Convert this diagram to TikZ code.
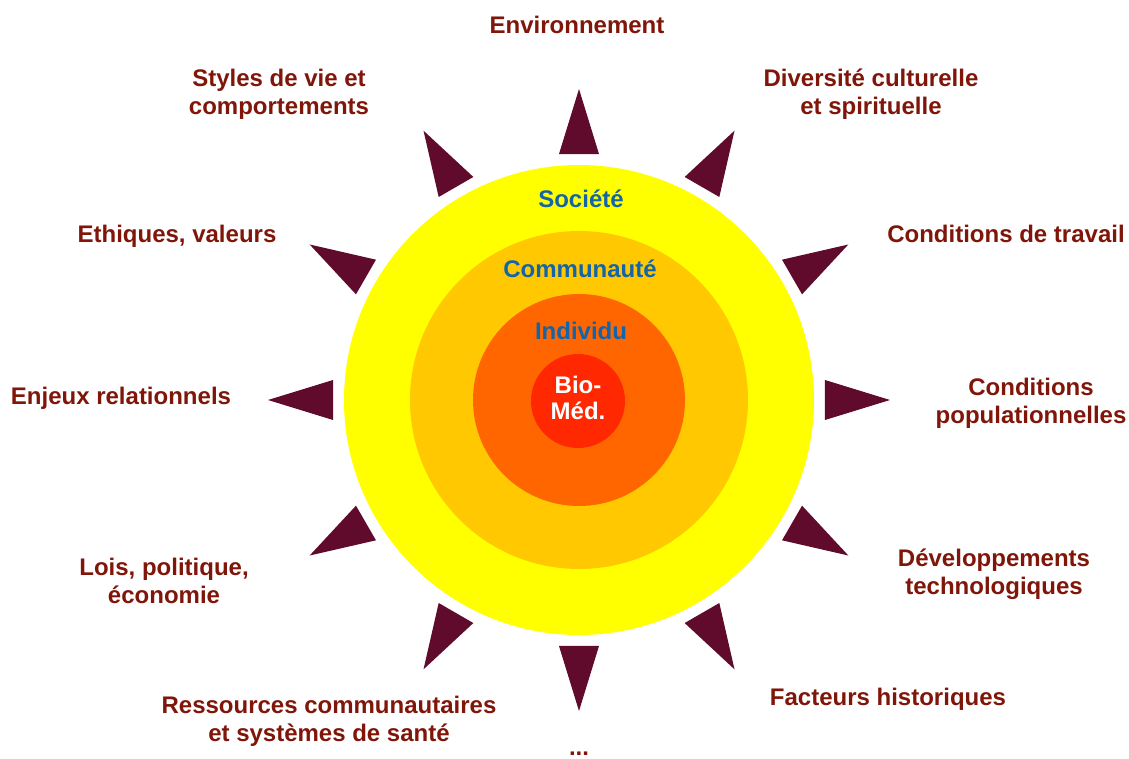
\documentclass[tikz,border=0pt]{standalone}
\usepackage{fontspec}
\setmainfont{Liberation Sans}
\definecolor{ray}{RGB}{96,10,44}
\definecolor{lab}{RGB}{128,22,10}
\definecolor{lvl}{RGB}{20,100,170}
\definecolor{soc}{RGB}{255,255,0}
\definecolor{com}{RGB}{255,200,0}
\definecolor{ind}{RGB}{255,102,0}
\definecolor{bio}{RGB}{255,40,0}
\tikzset{
  lbl/.style={text=lab, font=\fontsize{24}{28}\selectfont\bfseries, align=center, inner sep=0pt},
  lvllbl/.style={text=lvl, font=\fontsize{24}{28}\selectfont\bfseries, inner sep=0pt},
  raytri/.style={fill=ray}
}
\begin{document}
\begin{tikzpicture}[x=1pt,y=-1pt]
\useasboundingbox (0,0) rectangle (1129,759);
\coordinate (C) at (579,400);
% circles
\fill[soc] (C) circle (235);
\fill[com] (C) circle (169);
\fill[ind] (C) circle (106);
\fill[bio] (578,401) circle (47);
% rays
\begin{scope}[shift={(579,400)}]
\foreach \a in {0,30,...,330}{
  \fill[raytri] (\a+4.65:246.8) -- (\a-4.65:246.8) -- (\a:311) -- cycle;
}
\end{scope}
% level labels
\node[lvllbl] (soc) at (581,199) {Société};
\node[lvllbl] (com) at (580,269) {Communauté};
\node[lvllbl] (ind) at (581,331) {Individu};
\node[lbl, text=white, font=\fontsize{24}{26}\selectfont\bfseries] (bio) at (578,398) {Bio-\\Méd.};
% outer labels
\node[lbl] (env) at (577,25) {Environnement};
\node[lbl] (sty) at (279,94) {Styles de vie et\\comportements};
\node[lbl] (div) at (871,94) {Diversité culturelle\\et spirituelle};
\node[lbl] (eth) at (177,236) {Ethiques, valeurs};
\node[lbl] (tra) at (1006,234) {Conditions de travail};
\node[lbl] (enj) at (121,398) {Enjeux relationnels};
\node[lbl] (pop) at (1031,403) {Conditions\\populationnelles};
\node[lbl] (loi) at (164,581) {Lois, politique,\\économie};
\node[lbl] (dev) at (994,574) {Développements\\technologiques};
\node[lbl] (res) at (329,721) {Ressources communautaires\\et systèmes de santé};
\node[lbl] (his) at (888,699) {Facteurs historiques};
\node[lbl] (etc) at (579,754) {...};
\end{tikzpicture}
\end{document}
